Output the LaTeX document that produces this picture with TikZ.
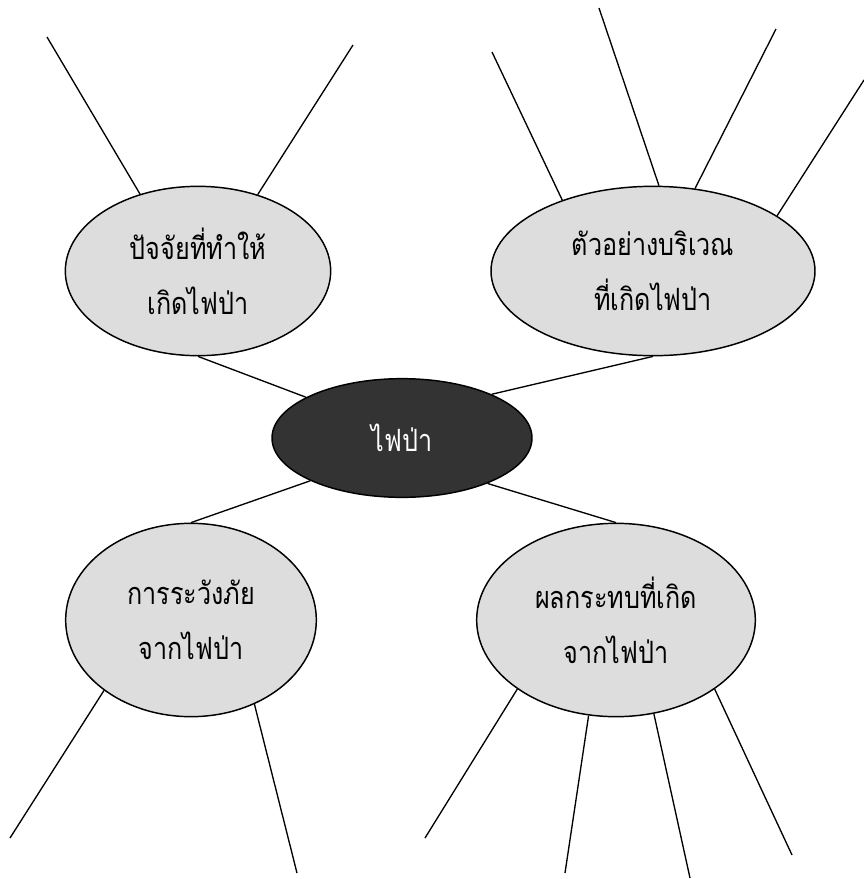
\documentclass[tikz,border=0pt]{standalone}
\usepackage{fontspec}
\usepackage{xcolor}
\usepackage{tikz}
\usetikzlibrary{shapes}
\newfontfamily\thaifont[Script=Thai,FakeStretch=0.82]{Loma}

\definecolor{topicgray}{HTML}{DDDDDD}
\definecolor{coredark}{HTML}{333333}

\begin{document}
	\begin{tikzpicture}[x=0.75pt,y=-0.75pt]
		\tikzstyle{topic}=[ellipse,draw=black,line width=1.1pt,fill=topicgray,inner sep=0pt,align=center,font=\thaifont\fontsize{23}{41}\selectfont]
		\tikzstyle{core}=[topic,fill=coredark,text=white]
		\tikzstyle{branch}=[draw=black,line width=1pt]

		\useasboundingbox (0,0) rectangle (864,879);

		% centre
		\node (fire) [core,minimum width=195pt,minimum height=89pt] at (402,438) {ไฟป่า};

		% four topics
		\node (cause) [topic,minimum width=199pt,minimum height=127pt] at (198,271) {ปัจจัยที่ทำให้\\เกิดไฟป่า};
		\node (place) [topic,minimum width=243pt,minimum height=127pt] at (653,271) {ตัวอย่างบริเวณ\\ที่เกิดไฟป่า};
		\node (guard) [topic,minimum width=188pt,minimum height=145pt] at (191,620) {การระวังภัย\\จากไฟป่า};
		\node (effect) [topic,minimum width=209pt,minimum height=145pt] at (616,620) {ผลกระทบที่เกิด\\จากไฟป่า};

		% free ends
		\coordinate (cause1) at (47,37);
		\coordinate (cause2) at (353,45);
		\coordinate (place1) at (492,52);
		\coordinate (place2) at (599,8);
		\coordinate (place3) at (776,29);
		\coordinate (place4) at (864,80);
		\coordinate (guard1) at (10,838);
		\coordinate (guard2) at (297,873);
		\coordinate (effect1) at (425,838);
		\coordinate (effect2) at (565,873);
		\coordinate (effect3) at (690,878);
		\coordinate (effect4) at (792,855);

		% links to the centre
		\draw [branch] (cause.south) -- (fire.157);
		\draw [branch] (place.south) -- (fire.26);
		\draw [branch] (guard.north) -- (fire.205);
		\draw [branch] (effect.north) -- (fire.332);

		% open branches
		\draw [branch] (cause.127) -- (cause1);
		\draw [branch] (cause.52) -- (cause2);
		\draw [branch] (place.142) -- (place1);
		\draw [branch] (place.86) -- (place2);
		\draw [branch] (place.63) -- (place3);
		\draw [branch] (place.24) -- (place4);
		\draw [branch] (guard.219) -- (guard1);
		\draw [branch] (guard.307) -- (guard2);
		\draw [branch] (effect.215) -- (effect1);
		\draw [branch] (effect.254) -- (effect2);
		\draw [branch] (effect.292) -- (effect3);
		\draw [branch] (effect.325) -- (effect4);

	\end{tikzpicture}
\end{document}
